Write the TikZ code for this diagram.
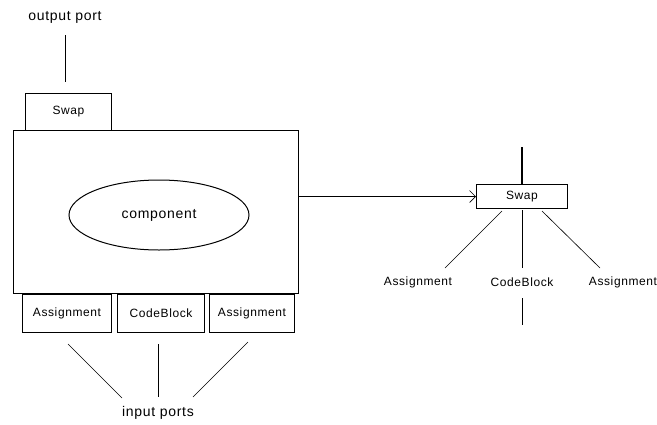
\documentclass[tikz,border=0pt]{standalone}
\usepackage{fontspec}
\setmainfont[LetterSpace=5]{Liberation Sans}
\usetikzlibrary{arrows.meta,shapes.geometric}
\begin{document}
\begin{tikzpicture}[x=1pt,y=-1pt,
  every node/.style={font=\fontsize{12}{14}\selectfont, inner sep=0pt},
  box/.style={draw, line width=1pt, rectangle, anchor=north west},
  lbl/.style={},
  biglbl/.style={font=\fontsize{14}{16}\selectfont},
  wire/.style={draw, line width=0.6pt}]
\useasboundingbox (0,0) rectangle (657,424);
% left structure
\node[biglbl] (op) at (65,17) {output port};
\coordinate (opA) at (65,35);
\coordinate (opB) at (65,82);
\draw[wire] (opA) -- (opB);
\node[box, minimum width=86pt, minimum height=37pt] (swap) at (25,93) {Swap};
\node[box, minimum width=285pt, minimum height=163pt] (main) at (13,130) {};
\node[draw, line width=1pt, ellipse, minimum width=180pt, minimum height=70pt, biglbl] (comp) at (159,215) {component};
\node[box, minimum width=89pt, minimum height=38pt] (a1) at (22,294) {Assignment};
\node[box, minimum width=87pt, minimum height=38pt] (cb) at (117,294) {CodeBlock};
\node[box, minimum width=85pt, minimum height=38pt] (a2) at (209,294) {Assignment};
\coordinate (l1a) at (68,344);
\coordinate (l1b) at (122,398);
\coordinate (l2a) at (158,344);
\coordinate (l2b) at (158,397);
\coordinate (l3a) at (248,342);
\coordinate (l3b) at (193,397);
\draw[wire] (l1a) -- (l1b);
\draw[wire] (l2a) -- (l2b);
\draw[wire] (l3a) -- (l3b);
\node[biglbl] (ip) at (158,413) {input ports};
% right structure
\node[box, minimum width=91pt, minimum height=24pt] (rswap) at (476,184) {Swap};
\draw[wire, -{Straight Barb[length=6pt,width=12pt]}] (main.east |- rswap.west) -- (rswap.west);
\coordinate (top) at (522,147);
\draw[line width=1.5pt] (top) -- (rswap.north -| top);
\node[lbl] (ra1) at (418,282) {Assignment};
\node[lbl] (rcb) at (522,282) {CodeBlock};
\node[lbl] (ra2) at (623,282) {Assignment};
\coordinate (r1a) at (502,211);
\coordinate (r1b) at (445,268);
\coordinate (r2a) at (522,210);
\coordinate (r2b) at (522,268);
\coordinate (r3a) at (542,211);
\coordinate (r3b) at (600,268);
\draw[wire] (r1a) -- (r1b);
\draw[wire] (r2a) -- (r2b);
\draw[wire] (r3a) -- (r3b);
\coordinate (bA) at (522,298);
\coordinate (bB) at (522,325);
\draw[wire] (bA) -- (bB);
\end{tikzpicture}
\end{document}
